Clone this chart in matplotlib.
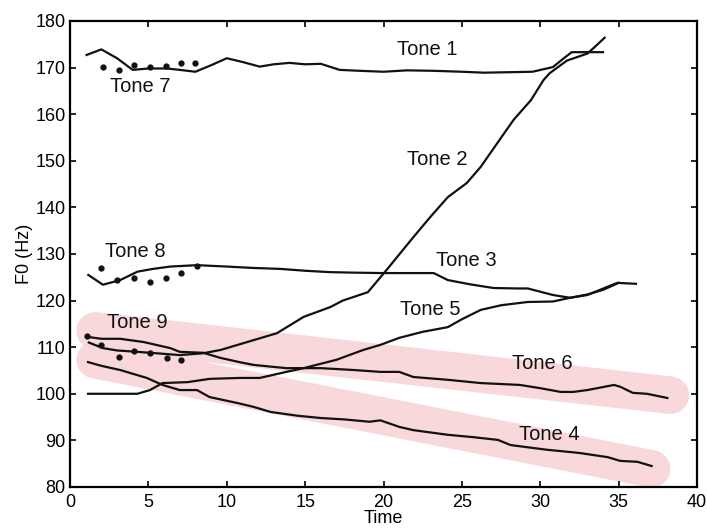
import matplotlib.pyplot as plt

plt.rcParams['font.family'] = ['Liberation Sans', 'DejaVu Sans']

# F0 contours (time, Hz)
tone1_t = [1.06, 2.0, 3, 4.0, 5, 6.2, 7, 8.0, 9, 10, 11, 12.1, 13, 14, 15, 16, 17.2, 18.5,
           20, 21.5, 23.2, 25, 26.4, 28, 29.5, 30.8, 31.5, 32, 33, 34]
tone1_f = [172.7, 173.9, 172, 169.5, 169.8, 169.8, 169.5, 169.1, 170.5, 172, 171.2, 170.2,
           170.7, 171, 170.7, 170.8, 169.5, 169.3, 169.1, 169.4, 169.3, 169.1, 168.9, 169,
           169.1, 170.1, 172, 173.3, 173.3, 173.3]

tone2_t = [1.2, 2.1, 3, 4.3, 5.5, 7, 8.5, 9.6, 10.8, 11.7, 13.2, 14.9, 16.6, 17.4, 19,
           20.2, 21.9, 23, 24.1, 25.3, 26.2, 27.3, 28.3, 29.4, 30.2, 30.6, 31.7, 33, 33.5, 34.1]
tone2_f = [111, 109.8, 109.3, 109, 108.7, 108.3, 108.7, 109.4, 110.6, 111.5, 113, 116.5,
           118.6, 120, 121.8, 126.6, 133.6, 138, 142.2, 145.2, 148.7, 154, 158.8, 163,
           167.3, 168.8, 171.5, 173, 174.5, 176.4]

tone3_t = [1.17, 2.1, 3.2, 4.3, 5.3, 6.4, 8.1, 10, 11.7, 13.4, 15, 16.6, 18, 20, 21.5, 23.2,
           24.1, 25.5, 27, 28.5, 29.2, 30.8, 31.9, 33, 34.9, 36.1]
tone3_f = [125.5, 123.4, 124.4, 126.2, 126.8, 127.3, 127.6, 127.3, 127, 126.8, 126.4, 126.1,
           126, 125.9, 125.9, 125.9, 124.4, 123.5, 122.7, 122.6, 122.6, 121.2, 120.6, 121.2,
           123.8, 123.6]

tone4_t = [1.15, 2, 3.2, 4.9, 5.9, 7, 8.1, 8.9, 10.7, 11.7, 12.8, 14.5, 16, 17.5, 19.1,
           19.8, 21, 21.9, 24.1, 25.7, 27.3, 28.1, 30.4, 32.5, 34.3, 35.1, 36.2, 37.1]
tone4_f = [106.8, 106, 105.1, 103.4, 101.9, 100.8, 100.8, 99.3, 98, 97.2, 96.1, 95.3, 94.8,
           94.5, 94, 94.3, 92.9, 92.2, 91.2, 90.7, 90.1, 89, 88, 87.3, 86.4, 85.6, 85.4, 84.5]

tone5_t = [1.15, 2.5, 4.3, 5.1, 5.9, 7.5, 8.9, 10.8, 12.1, 13.8, 14.9, 17, 18.7, 19.8, 21,
           22.5, 24.1, 25, 26.2, 27.5, 29.2, 30.8, 31.9, 33, 34, 35]
tone5_f = [100, 100, 100, 100.8, 102.3, 102.5, 103.2, 103.4, 103.4, 104.7, 105.5, 107.3,
           109.4, 110.5, 112, 113.3, 114.3, 116, 118, 119, 119.7, 119.8, 120.6, 121.3,
           122.3, 123.8]

tone6_t = [1.15, 2, 3.2, 4.7, 6.4, 7, 8.5, 9.6, 10.8, 11.7, 13.8, 16, 18.1, 19.8, 21, 21.9,
           24.1, 26.2, 28.7, 30, 31.3, 32.1, 33, 34.7, 35.1, 35.9, 36.8, 38.1]
tone6_f = [112.2, 111.8, 111.8, 111.1, 109.8, 109, 108.8, 107.7, 106.8, 106.2, 105.5, 105.5,
           105.1, 104.7, 104.7, 103.6, 103, 102.3, 101.9, 101.2, 100.4, 100.4, 100.8, 101.9,
           101.5, 100.2, 100, 99.1]

# dotted tones
tone7_t = [2.1, 3.1, 4.1, 5.1, 6.1, 7.1, 8.0]
tone7_f = [170.2, 169.5, 170.6, 170.2, 170.3, 171, 170.9]
tone8_t = [2, 3, 4.1, 5.1, 6.1, 7.1, 8.1]
tone8_f = [127, 124.4, 124.8, 124, 124.8, 125.9, 127.5]
tone9_t = [1.1, 2, 3.1, 4.1, 5.1, 6.2, 7.1]
tone9_f = [112.5, 110.5, 108, 109.2, 108.8, 107.7, 107.3]

labels = ['Tone 1', 'Tone 2', 'Tone 3', 'Tone 4', 'Tone 5', 'Tone 6', 'Tone 7', 'Tone 8', 'Tone 9']
label_t = [22.8, 23.4, 25.3, 30.6, 23.0, 30.1, 4.5, 4.15, 4.3]
label_f = [173.8, 150.2, 128.7, 91.2, 118.0, 106.6, 165.9, 130.5, 115.2]

# highlighter strokes over the two falling tones
band6_t = [1.6, 38.3]
band6_f = [113.5, 99.7]
band4_t = [1.6, 37.1]
band4_f = [107.3, 83.9]

fig = plt.figure(figsize=(7.07, 5.29), dpi=100)
ax = fig.add_axes([0.099, 0.0794, 0.887, 0.881])

pink = '#f8d8da'
for bt, bf in [(band6_t, band6_f), (band4_t, band4_f)]:
    ax.plot(bt, bf, color=pink, lw=27, solid_capstyle='round', zorder=0, clip_on=False)

line_kw = dict(color='#111111', lw=1.6, zorder=2)
for t, f in [(tone1_t, tone1_f), (tone2_t, tone2_f), (tone3_t, tone3_f),
             (tone4_t, tone4_f), (tone5_t, tone5_f), (tone6_t, tone6_f)]:
    ax.plot(t, f, **line_kw)

for t, f in [(tone7_t, tone7_f), (tone8_t, tone8_f), (tone9_t, tone9_f)]:
    ax.plot(t, f, 'o', color='#111111', ms=3.5, zorder=3)

for lab, lt, lf in zip(labels, label_t, label_f):
    ax.text(lt, lf, lab, fontsize=14.5, ha='center', va='center', color='#111111', zorder=4)

ax.set_xlim(0, 40)
ax.set_ylim(80, 180)
ax.set_xticks(range(0, 41, 5))
ax.set_yticks(range(80, 181, 10))
ax.tick_params(direction='in', length=4, width=1.2, top=True, right=True, labelsize=13)
ax.tick_params(axis='x', pad=5)
ax.tick_params(axis='y', pad=3)
for s in ax.spines.values():
    s.set_linewidth(1.6)
ax.set_xlabel('Time', fontsize=13, labelpad=-1)
ax.set_ylabel('F0 (Hz)', fontsize=13, labelpad=2)

plt.savefig('out.png', dpi=100)
